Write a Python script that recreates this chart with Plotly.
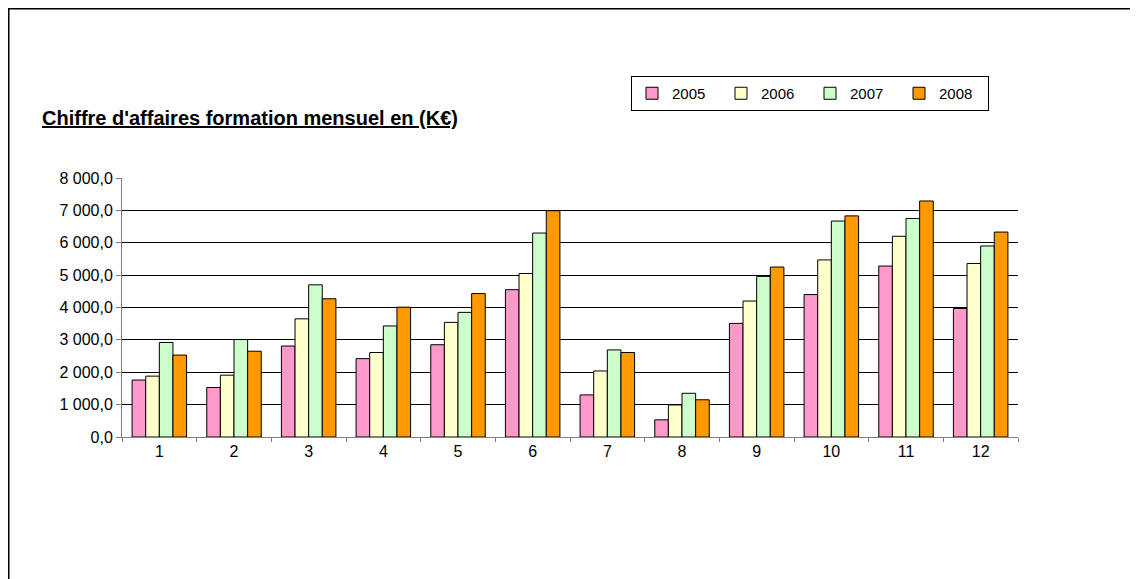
import plotly.graph_objects as go

months = [str(m) for m in range(1, 13)]
years = ["2005", "2006", "2007", "2008"]
v2005 = [1760, 1530, 2810, 2420, 2850, 4550, 1300, 530, 3510, 4400, 5280, 3970]
v2006 = [1880, 1910, 3650, 2610, 3540, 5050, 2040, 990, 4200, 5470, 6200, 5360]
v2007 = [2920, 3010, 4700, 3430, 3850, 6300, 2690, 1350, 4960, 6670, 6750, 5900]
v2008 = [2530, 2650, 4270, 4010, 4430, 6990, 2610, 1150, 5250, 6830, 7290, 6330]
colors = ["#FF99CC", "#FFFFCC", "#CCFFCC", "#FF9900"]
title_text = "Chiffre d'affaires formation mensuel en (K€)"

OFF = 8  # page body margin
W, H = 1138 - OFF, 579 - OFF
L, T = 122 - OFF, 178 - OFF
R = W - (1018 - OFF)
B = H - (437 - OFF)
pw, ph = W - L - R, H - T - B

def px(x):
    return (x - OFF - L) / pw

def py(y):
    return (H - B - (y - OFF)) / ph

fig = go.Figure()
for name, vals, c in zip(years, [v2005, v2006, v2007, v2008], colors):
    fig.add_trace(go.Bar(x=months, y=vals, name=name,
                         marker=dict(color=c, line=dict(color="black", width=1))))

font = "Liberation Sans, Arial, sans-serif"
fig.update_layout(
    width=W, height=H,
    margin=dict(l=L, r=R, t=T, b=B, pad=0),
    paper_bgcolor="white", plot_bgcolor="white",
    font=dict(family=font, size=15, color="black"),
    barmode="group", bargap=0.27, bargroupgap=0,
    showlegend=True,
    legend=dict(orientation="h", x=px(631), y=py(76), xanchor="left", yanchor="top",
                bordercolor="black", borderwidth=1, bgcolor="white",
                font=dict(size=15), entrywidth=44, entrywidthmode="pixels",
                traceorder="normal"),
    xaxis=dict(type="category", showline=True, linecolor="#808080", linewidth=1,
               ticks="outside", tickson="boundaries", ticklen=4, tickcolor="#808080",
               showgrid=False, tickfont=dict(size=16)),
    yaxis=dict(range=[0, 8000], dtick=1000, tickformat=",.1f", showline=True,
               linecolor="#808080", linewidth=1, ticks="outside", ticklen=5,
               tickcolor="#808080", showgrid=True, gridcolor="black", gridwidth=1,
               zeroline=False, tickfont=dict(size=16)),
    separators=", ",
    annotations=[dict(text="<b><u>" + title_text + "</u></b>", xref="paper", yref="paper",
                      x=px(40), y=py(118), xanchor="left", yanchor="middle",
                      showarrow=False, font=dict(size=20, family=font, color="black"))],
    shapes=[dict(type="rect", xref="paper", yref="paper", x0=px(8.5), x1=px(1300),
                 y0=py(800), y1=py(8.5), line=dict(color="black", width=2))],
)

fig.write_html("out.html")
